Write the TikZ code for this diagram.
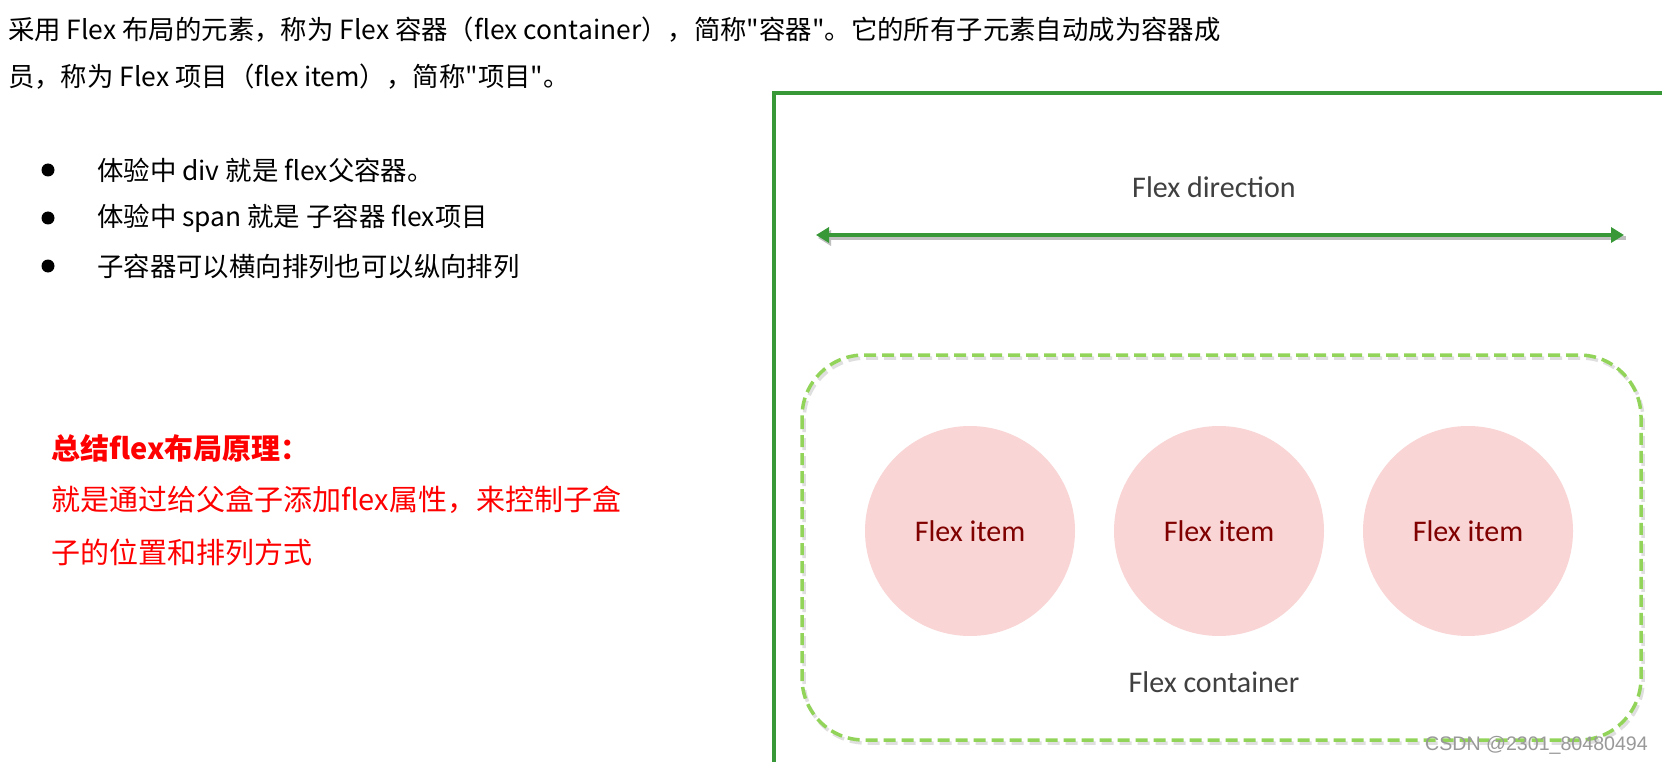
\documentclass[tikz,border=0pt]{standalone}
\usepackage{fontspec}
\newfontfamily\cjk{Noto Sans CJK SC}
\newfontfamily\lab{Carlito}
\newfontfamily\wm{Liberation Sans}
\usetikzlibrary{arrows.meta}
\definecolor{framegreen}{RGB}{56,152,56}
\definecolor{dashgreen}{RGB}{146,212,90}
\definecolor{itempink}{RGB}{249,213,213}
\definecolor{itemred}{RGB}{128,0,0}
\definecolor{labgray}{RGB}{64,64,64}
\tikzset{
  body/.style={anchor=west,inner sep=0pt,font=\cjk\fontsize{26.4}{30}\selectfont,text=black},
  redtxt/.style={anchor=west,inner sep=0pt,font=\cjk\fontsize{29}{34}\selectfont,text=red},
  bulletdot/.style={circle,fill=black,inner sep=0pt,minimum size=13pt},
  item/.style={circle,fill=itempink,draw=none,minimum size=210pt,inner sep=0pt,
     font=\lab\fontsize{30}{36}\selectfont,text=itemred},
  lbl/.style={inner sep=0pt,font=\lab\fontsize{30}{36}\selectfont,text=labgray},
}
\begin{document}
\begin{tikzpicture}[x=1pt,y=-1pt]
\useasboundingbox (0,0) rectangle (1662,762);
\fill[white] (0,0) rectangle (1662,762);
% left text
\node[body] (l1) at (8,30) {采用 Flex 布局的元素，称为 Flex 容器（flex container），简称"容器"。它的所有子元素自动成为容器成};
\node[body] (l2) at (8,77) {员，称为 Flex 项目（flex item），简称"项目"。};
\node[bulletdot] (b1) at (48,170) {};
\node[bulletdot] (b2) at (48,218) {};
\node[bulletdot] (b3) at (48,266) {};
\node[body] (t1) at (97,170) {体验中 div 就是 flex父容器。};
\node[body] (t2) at (97,218) {体验中 span 就是 子容器 flex项目};
\node[body] (t3) at (97,266) {子容器可以横向排列也可以纵向排列};
\node[redtxt,font=\cjk\bfseries\fontsize{29}{34}\selectfont] (h) at (51,448) {总结flex布局原理：};
\node[redtxt] (r1) at (51,500) {就是通过给父盒子添加flex属性，来控制子盒};
\node[redtxt] (r2) at (51,552) {子的位置和排列方式};
% outer frame
\draw[framegreen,line width=3.5pt] (774,764) -- (774,93) -- (1664,93);
% direction arrow
\node[lbl] (dir) at (1214,187) {Flex direction};
\coordinate (al) at (816,235);
\coordinate (ar) at (1624,235);
\draw[gray!50,line width=4pt,-{Triangle[length=13pt,width=15pt]},{Triangle[length=13pt,width=15pt]}-] ([shift={(2,3)}]al) -- ([shift={(2,3)}]ar);
\draw[framegreen,line width=4pt,{Triangle[length=13pt,width=15pt]}-{Triangle[length=13pt,width=15pt]}] (al) -- (ar);
% flex container
\draw[gray!25,line width=3.5pt,rounded corners=62pt,dash pattern=on 12pt off 6pt] (804,358) rectangle (1643,743);
\draw[dashgreen,line width=3.5pt,rounded corners=62pt,dash pattern=on 12pt off 6pt] (802,355) rectangle (1641,740);
\node[item] (i1) at (970,531) {Flex item};
\node[item] (i2) at (1219,531) {Flex item};
\node[item] (i3) at (1468,531) {Flex item};
\node[lbl] (fc) at (1214,682) {Flex container};
% watermark
\node[anchor=east,inner sep=0pt,font=\wm\fontsize{19.6}{22}\selectfont,text=gray!80] (wm) at (1648,745) {CSDN @2301\_80480494};
\end{tikzpicture}
\end{document}
